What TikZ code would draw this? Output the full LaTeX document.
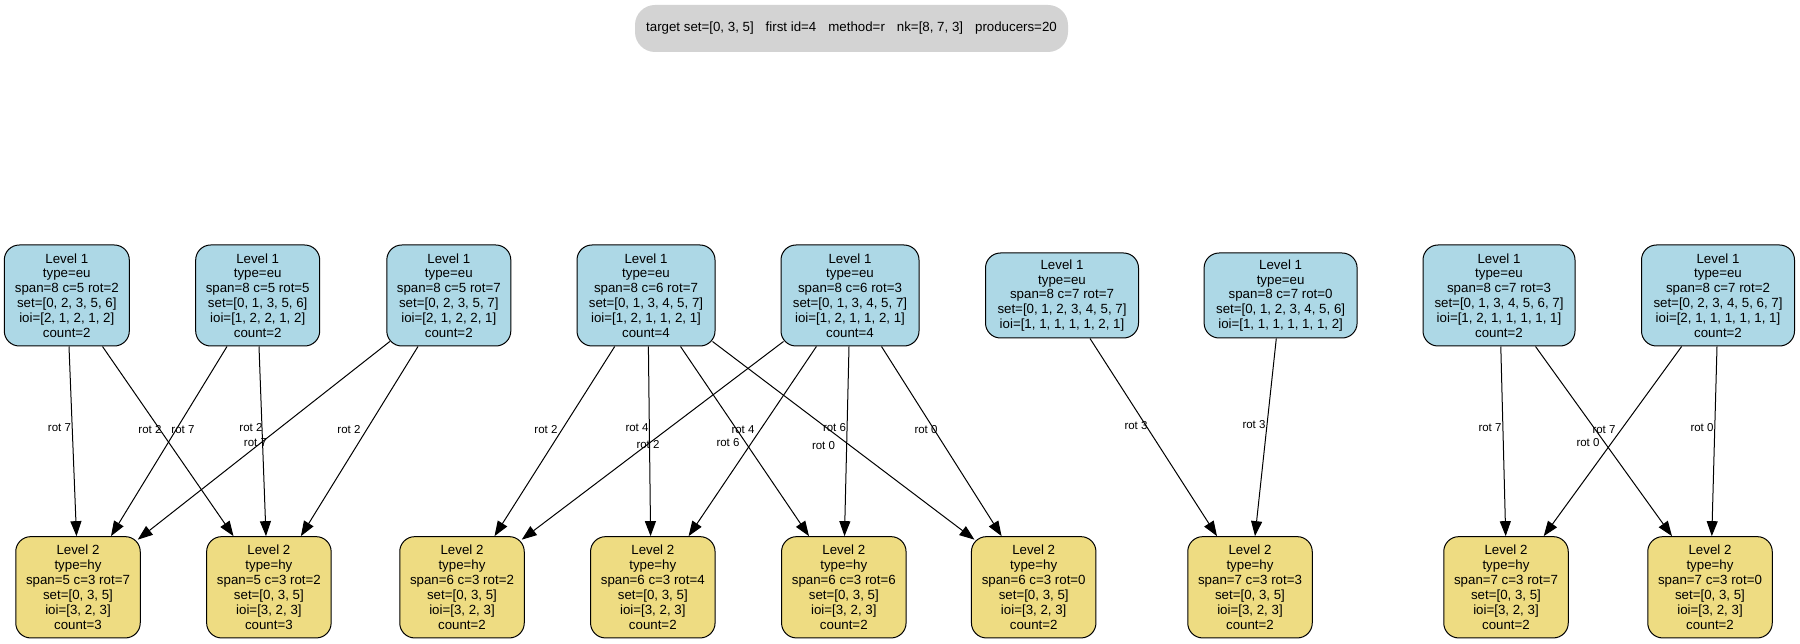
\documentclass[tikz,border=0pt]{standalone}
\usepackage{fontspec}
\setmainfont{Liberation Sans}
\usetikzlibrary{arrows.meta}
\definecolor{lvone}{HTML}{ADD8E6}
\definecolor{lvtwo}{HTML}{EEDC82}
\definecolor{titlegray}{HTML}{D3D3D3}
\begin{document}
\begin{tikzpicture}[x=1pt,y=-1pt,
  box/.style={draw=black, line width=1pt, rounded corners=15pt, align=center, inner sep=0pt, font=\fontsize{13.3}{14.9}\selectfont},
  lvA/.style={box, fill=lvone, minimum height=101pt},
  lvAs/.style={box, fill=lvone, minimum height=85pt},
  lvB/.style={box, fill=lvtwo, minimum width=124.5pt, minimum height=101.3pt},
  conn/.style={-{Triangle[length=15pt,width=11pt]}, line width=1pt},
  elab/.style={font=\fontsize{11.5}{12}\selectfont, inner sep=0pt}]
\useasboundingbox (0,0) rectangle (1800,644);

\node[fill=titlegray, rounded corners=20pt, minimum width=433pt, minimum height=47pt, inner sep=0pt, font=\fontsize{13.3}{14.9}\selectfont] (title) at (851.5,28.5) {target set=[0, 3, 5]\hspace{12pt}first id=4\hspace{12pt}method=r\hspace{12pt}nk=[8, 7, 3]\hspace{12pt}producers=20};

% Level 1
\node[lvA, minimum width=125pt] (A) at (66.8,295.5) {Level 1\\type=eu\\span=8 c=5 rot=2\\set=[0, 2, 3, 5, 6]\\ioi=[2, 1, 2, 1, 2]\\count=2};
\node[lvA, minimum width=124pt] (B) at (257.7,295.5) {Level 1\\type=eu\\span=8 c=5 rot=5\\set=[0, 1, 3, 5, 6]\\ioi=[1, 2, 2, 1, 2]\\count=2};
\node[lvA, minimum width=124pt] (C) at (448.8,295.5) {Level 1\\type=eu\\span=8 c=5 rot=7\\set=[0, 2, 3, 5, 7]\\ioi=[2, 1, 2, 2, 1]\\count=2};
\node[lvA, minimum width=138pt] (D) at (646,295.5) {Level 1\\type=eu\\span=8 c=6 rot=7\\set=[0, 1, 3, 4, 5, 7]\\ioi=[1, 2, 1, 1, 2, 1]\\count=4};
\node[lvA, minimum width=138pt] (E) at (850,295.5) {Level 1\\type=eu\\span=8 c=6 rot=3\\set=[0, 1, 3, 4, 5, 7]\\ioi=[1, 2, 1, 1, 2, 1]\\count=4};
\node[lvAs, minimum width=153pt] (F) at (1062,295.5) {Level 1\\type=eu\\span=8 c=7 rot=7\\set=[0, 1, 2, 3, 4, 5, 7]\\ioi=[1, 1, 1, 1, 1, 2, 1]};
\node[lvAs, minimum width=153pt] (G) at (1280.6,295.5) {Level 1\\type=eu\\span=8 c=7 rot=0\\set=[0, 1, 2, 3, 4, 5, 6]\\ioi=[1, 1, 1, 1, 1, 1, 2]};
\node[lvA, minimum width=152pt] (H) at (1499,295.5) {Level 1\\type=eu\\span=8 c=7 rot=3\\set=[0, 1, 3, 4, 5, 6, 7]\\ioi=[1, 2, 1, 1, 1, 1, 1]\\count=2};
\node[lvA, minimum width=153pt] (I) at (1718,295.5) {Level 1\\type=eu\\span=8 c=7 rot=2\\set=[0, 2, 3, 4, 5, 6, 7]\\ioi=[2, 1, 1, 1, 1, 1, 1]\\count=2};

% Level 2
\node[lvB] (L1) at (78,587.3) {Level 2\\type=hy\\span=5 c=3 rot=7\\set=[0, 3, 5]\\ioi=[3, 2, 3]\\count=3};
\node[lvB] (L2) at (268.9,587.3) {Level 2\\type=hy\\span=5 c=3 rot=2\\set=[0, 3, 5]\\ioi=[3, 2, 3]\\count=3};
\node[lvB] (L3) at (462,587.3) {Level 2\\type=hy\\span=6 c=3 rot=2\\set=[0, 3, 5]\\ioi=[3, 2, 3]\\count=2};
\node[lvB] (L4) at (652.8,587.3) {Level 2\\type=hy\\span=6 c=3 rot=4\\set=[0, 3, 5]\\ioi=[3, 2, 3]\\count=2};
\node[lvB] (L5) at (843.8,587.3) {Level 2\\type=hy\\span=6 c=3 rot=6\\set=[0, 3, 5]\\ioi=[3, 2, 3]\\count=2};
\node[lvB] (L6) at (1033.7,587.3) {Level 2\\type=hy\\span=6 c=3 rot=0\\set=[0, 3, 5]\\ioi=[3, 2, 3]\\count=2};
\node[lvB] (L7) at (1250,587.3) {Level 2\\type=hy\\span=7 c=3 rot=3\\set=[0, 3, 5]\\ioi=[3, 2, 3]\\count=2};
\node[lvB] (L8) at (1506,587.3) {Level 2\\type=hy\\span=7 c=3 rot=7\\set=[0, 3, 5]\\ioi=[3, 2, 3]\\count=2};
\node[lvB] (L9) at (1710,587.3) {Level 2\\type=hy\\span=7 c=3 rot=0\\set=[0, 3, 5]\\ioi=[3, 2, 3]\\count=2};

% Edges
\draw[conn] ([xshift=2.2pt]A.south) -- ([xshift=-1.5pt]L1.north);
\draw[conn] ([xshift=35.7pt]A.south) -- ([xshift=-35.4pt]L2.north);
\draw[conn] ([xshift=-30.7pt]B.south) -- ([xshift=33pt]L1.north);
\draw[conn] ([xshift=1.3pt]B.south) -- ([xshift=-2.9pt]L2.north);
\draw[conn] ([xshift=3.5pt,yshift=5pt]C.south west) -- ([xshift=-3pt,yshift=-3.5pt]L1.north east);
\draw[conn] ([xshift=-30.8pt]C.south) -- ([xshift=32pt]L2.north);
\draw[conn] ([xshift=-31.3pt]D.south) -- ([xshift=32.5pt]L3.north);
\draw[conn] ([xshift=2.4pt]D.south) -- ([xshift=-2.2pt]L4.north);
\draw[conn] ([xshift=34.5pt]D.south) -- ([xshift=-34.8pt]L5.north);
\draw[conn] ([xshift=-3pt,yshift=5pt]D.south east) -- ([xshift=3.5pt,yshift=-3.5pt]L6.north west);
\draw[conn] ([xshift=3pt,yshift=5pt]E.south west) -- ([xshift=-3pt,yshift=-3.5pt]L3.north east);
\draw[conn] ([xshift=-33.6pt]E.south) -- ([xshift=35.8pt]L4.north);
\draw[conn] ([xshift=-1pt]E.south) -- ([xshift=0.7pt]L5.north);
\draw[conn] ([xshift=31.5pt]E.south) -- ([xshift=-32.1pt]L6.north);
\draw[conn] ([xshift=28pt]F.south) -- ([xshift=-33pt]L7.north);
\draw[conn] ([xshift=-4.3pt]G.south) -- ([xshift=5pt]L7.north);
\draw[conn] ([xshift=1.8pt]H.south) -- ([xshift=-0.3pt]L8.north);
\draw[conn] ([xshift=36.5pt]H.south) -- ([xshift=-38pt]L9.north);
\draw[conn] ([xshift=-36.4pt]I.south) -- ([xshift=37.7pt]L8.north);
\draw[conn] ([xshift=-1pt]I.south) -- ([xshift=1.8pt]L9.north);

% Edge labels
\node[elab] (lA1) at (59.5,428) {rot 7};
\node[elab] (lA2) at (150,430) {rot 2};
\node[elab] (lB1) at (183,430) {rot 7};
\node[elab] (lB2) at (251,428) {rot 2};
\node[elab] (lC1) at (255.5,443) {rot 7};
\node[elab] (lC2) at (349,430) {rot 2};
\node[elab] (lD3) at (546,430) {rot 2};
\node[elab] (lD4) at (637,428) {rot 4};
\node[elab] (lE3) at (648,445) {rot 2};
\node[elab] (lE4) at (743,430) {rot 4};
\node[elab] (lD5) at (728,443) {rot 6};
\node[elab] (lE5) at (834.5,427.5) {rot 6};
\node[elab] (lD6) at (823.5,446) {rot 0};
\node[elab] (lE6) at (926,430) {rot 0};
\node[elab] (lF7) at (1136,426) {rot 3};
\node[elab] (lG7) at (1254,425) {rot 3};
\node[elab] (lH8) at (1490,428) {rot 7};
\node[elab] (lI8) at (1604,430) {rot 7};
\node[elab] (lH9) at (1588,443) {rot 0};
\node[elab] (lI9) at (1702,428) {rot 0};
\end{tikzpicture}
\end{document}
